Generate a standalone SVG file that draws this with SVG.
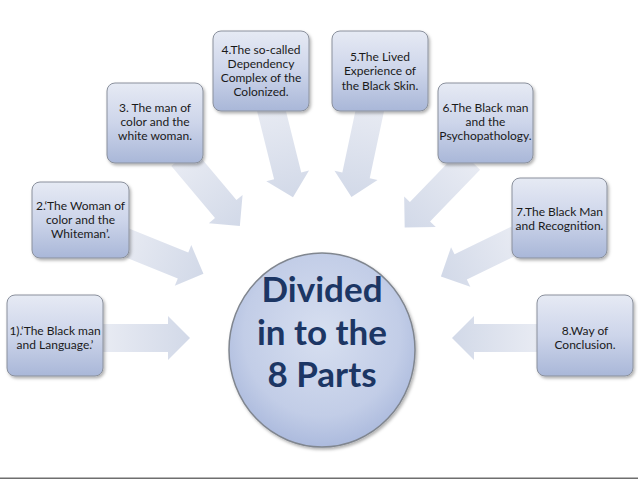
<svg xmlns="http://www.w3.org/2000/svg" width="638" height="479" viewBox="0 0 638 479">
<defs>
<linearGradient id="boxg" x1="0" y1="0" x2="0" y2="1">
<stop offset="0" stop-color="#e6eaf4"/>
<stop offset="0.5" stop-color="#cdd5ea"/>
<stop offset="1" stop-color="#a9b7d8"/>
</linearGradient>
<radialGradient id="ellg" cx="0.5" cy="0.42" r="0.6">
<stop offset="0" stop-color="#d7dff0"/>
<stop offset="0.7" stop-color="#c2cde7"/>
<stop offset="1" stop-color="#a9b8dc"/>
</radialGradient>
<linearGradient id="arrg" x1="0" y1="0" x2="1" y2="0">
<stop offset="0" stop-color="#e8ebf3"/>
<stop offset="1" stop-color="#d2d9e8"/>
</linearGradient>
<filter id="sh" x="-10%" y="-10%" width="125%" height="125%">
<feDropShadow dx="1.5" dy="2" stdDeviation="1.5" flood-color="#000" flood-opacity="0.3"/>
</filter>
</defs>
<style>
.box{fill:url(#boxg);stroke:#8a909c;stroke-width:1}
.arr{fill:url(#arrg);stroke:none}
.t{font-family:Lato,"Liberation Sans",sans-serif;font-size:12px;fill:#1a1a1a;text-anchor:middle}
.big{font-family:Lato,"Liberation Sans",sans-serif;font-weight:bold;font-size:35px;fill:#1c3664;text-anchor:middle}
</style>
<rect width="638" height="479" fill="#ffffff"/>
<g id="connectors">
<path class="arr" transform="translate(103,338)" d="M0,-14 H65 V-22 L87,0 L65,22 V14 H0 Z"/>
<path class="arr" transform="translate(120,240) rotate(22)" d="M0,-14 H68 V-22 L90,0 L68,22 V14 H0 Z"/>
<path class="arr" transform="translate(182,157) rotate(50)" d="M0,-14 H68 V-22 L90,0 L68,22 V14 H0 Z"/>
<path class="arr" transform="translate(270,105) rotate(76)" d="M0,-14 H73 V-22 L95,0 L73,22 V14 H0 Z"/>
<path class="arr" transform="translate(371,105) rotate(102)" d="M0,-14 H72 V-22 L94,0 L72,22 V14 H0 Z"/>
<path class="arr" transform="translate(470,160) rotate(134)" d="M0,-14 H72 V-22 L94,0 L72,22 V14 H0 Z"/>
<path class="arr" transform="translate(520,238) rotate(154)" d="M0,-14 H66 V-22 L88,0 L66,22 V14 H0 Z"/>
<path class="arr" transform="translate(537,338) rotate(180)" d="M0,-14 H63 V-22 L85,0 L63,22 V14 H0 Z"/>
</g>
<g id="n1">
<rect class="box" filter="url(#sh)" x="7" y="295" width="96" height="81" rx="8"/>
<text class="t" x="55" y="335">1).‘The Black man</text>
<text class="t" x="55" y="349">and Language.’</text>
</g>
<g id="n2">
<rect class="box" filter="url(#sh)" x="32" y="182" width="97" height="76" rx="8"/>
<text class="t" x="80.5" y="210">2.‘The Woman of</text>
<text class="t" x="80.5" y="224">color and the</text>
<text class="t" x="80.5" y="238">Whiteman’.</text>
</g>
<g id="n3">
<rect class="box" filter="url(#sh)" x="107" y="83" width="96" height="80" rx="8"/>
<text class="t" x="155" y="112">3. The man of</text>
<text class="t" x="155" y="126">color and the</text>
<text class="t" x="155" y="140">white woman.</text>
</g>
<g id="n4">
<rect class="box" filter="url(#sh)" x="213" y="31" width="96" height="80" rx="8"/>
<text class="t" x="261" y="53.5">4.The so-called</text>
<text class="t" x="261" y="67.8">Dependency</text>
<text class="t" x="261" y="82.1">Complex of  the</text>
<text class="t" x="261" y="96.4">Colonized.</text>
</g>
<g id="n5">
<rect class="box" filter="url(#sh)" x="332" y="31" width="96" height="80" rx="8"/>
<text class="t" x="380" y="61">5.The Lived</text>
<text class="t" x="380" y="75.3">Experience  of</text>
<text class="t" x="380" y="89.6">the Black Skin.</text>
</g>
<g id="n6">
<rect class="box" filter="url(#sh)" x="438" y="83" width="95" height="80" rx="8"/>
<text class="t" x="485.5" y="112">6.The Black man</text>
<text class="t" x="485.5" y="126">and the</text>
<text class="t" x="485.5" y="140">Psychopathology.</text>
</g>
<g id="n7">
<rect class="box" filter="url(#sh)" x="512" y="178" width="95" height="80" rx="8"/>
<text class="t" x="559.5" y="216">7.The Black Man</text>
<text class="t" x="559.5" y="230">and Recognition.</text>
</g>
<g id="n8">
<rect class="box" filter="url(#sh)" x="537" y="295" width="96" height="81" rx="8"/>
<text class="t" x="585" y="335">8.Way of</text>
<text class="t" x="585" y="349">Conclusion.</text>
</g>
<g id="center">
<ellipse cx="322" cy="350" rx="93" ry="97" fill="url(#ellg)" stroke="#80868f" stroke-width="1.5" filter="url(#sh)"/>
<text class="big" x="322" y="302">Divided</text>
<text class="big" x="322" y="345">in to the</text>
<text class="big" x="322" y="387">8 Parts</text>
</g>
<rect x="0" y="477.5" width="638" height="1.5" fill="#6e6e6e"/>
</svg>
